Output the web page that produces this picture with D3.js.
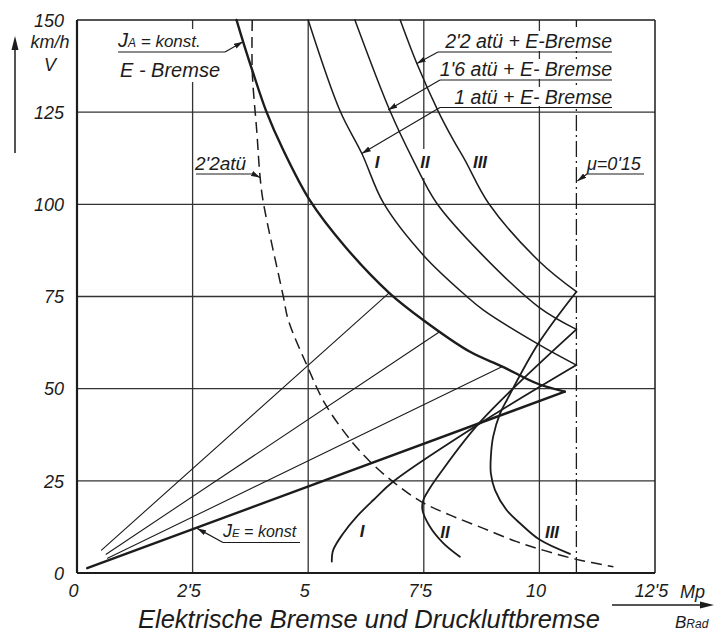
<!DOCTYPE html>
<html><head><meta charset="utf-8">
<script src="https://cdn.jsdelivr.net/npm/d3@7"></script>
<style>
html,body{margin:0;padding:0;background:#fff;}
svg{display:block;}
text{font-family:"Liberation Sans",Arial,sans-serif;font-style:italic;fill:#1c1c1c;}
</style></head><body>
<svg id="c" width="722" height="637"></svg>
<script>
// ---------- data (B in Mp, V in km/h) ----------
const xTicks=[0,2.5,5,7.5,10,12.5];
const xTickLabels=["0","2'5","5","7'5","10","12'5"];
const yTicks=[0,25,50,75,100,125,150];
const yTickLabels=["0","25","50","75","100","125","150"];
const muLimit=10.8;
// E-Bremse, J_A = konst.
const eBrake=[[3.45,150],[3.62,143],[3.8,136],[4.1,125],[4.45,115],[5.04,101],[5.8,88.5],[6.75,76],[7.5,68.5],[8.5,60.0],[9.2,56.0],[9.95,51.4],[10.55,49.2]];
// J_E = konst.
const jeLine=[[10.55,49.2],[0.22,1.3]];
// thin lines from origin to E-curve
const radial1=[[0.53,6.2],[6.75,76]];
const radial2=[[0.63,5.1],[7.85,65.5]];
const radial3=[[0.66,4.0],[9.2,56.0]];
// air + E-Bremse (upper branches)
const curveI=[[5.0,150],[5.69,125.3],[6.16,113.8],[6.63,100.3],[7.49,86.2],[8.43,75],[8.79,71.3],[10.01,61.8],[10.8,56.4]];
const curveII=[[6.01,150],[6.77,125.3],[7.27,112],[7.78,100.3],[8.75,86.5],[10.0,72],[10.8,66.1]];
const curveIII=[[6.99,150],[7.35,138.2],[7.81,125.3],[8.14,117.4],[8.39,112],[8.9,100.3],[10.0,84.5],[10.8,76.3]];
// lower branches
const lowerI=[[5.51,3.1],[5.54,6.2],[5.76,10.8],[6.05,15.3],[6.41,19.8],[6.84,24.8],[8.72,40.6],[10.8,56.4]];
const lowerII=[[8.28,4.4],[7.92,8.1],[7.63,12.6],[7.47,17.1],[7.49,19.8],[7.63,23],[7.85,27],[8.72,41],[10.8,66.1]];
const lowerIII=[[10.66,5.2],[10.01,9],[9.58,13.5],[9.29,17.1],[9.04,22.5],[8.95,27],[8.95,31.5],[9.0,37],[9.15,43.3],[9.3,47],[9.98,62.3],[10.8,76.3]];
// 2'2 atü air brake alone (dashed)
const air22=[[3.79,150],[3.79,136],[3.89,119.5],[3.96,107.3],[4.03,100.5],[4.46,75.1],[4.57,68.6],[4.97,56.4],[5.36,46],[5.9,36.3],[6.37,29.8],[6.88,24.3],[7.45,19.3],[8.07,15.7],[8.79,12.1],[9.51,8.5],[10.08,6.2],[10.8,3.7],[11.6,1.7]];

// ---------- layout ----------
const svg=d3.select("#c");
const x=d3.scaleLinear().domain([0,12.5]).range([77,655]);
const y=d3.scaleLinear().domain([0,150]).range([573,20]);
const ink="#1c1c1c";

svg.append("rect").attr("width",722).attr("height",637).attr("fill","#fff");
const defs=svg.append("defs");
defs.append("marker").attr("id","ah").attr("viewBox","0 0 10 6").attr("refX",10).attr("refY",3)
  .attr("markerWidth",9).attr("markerHeight",5.5).attr("markerUnits","userSpaceOnUse").attr("orient","auto")
  .append("path").attr("d","M0,0L10,3L0,6Z").attr("fill",ink);

const g=svg.append("g");
// grid
g.selectAll(".hg").data(yTicks.filter(v=>v>0&&v<150)).join("line")
  .attr("x1",x(0)).attr("x2",x(12.5)).attr("y1",d=>y(d)).attr("y2",d=>y(d))
  .attr("stroke","#333").attr("stroke-width",1.3);
g.selectAll(".vg").data(xTicks.filter(v=>v>0&&v<12.5)).join("line")
  .attr("y1",y(0)).attr("y2",y(150)).attr("x1",d=>x(d)).attr("x2",d=>x(d))
  .attr("stroke","#333").attr("stroke-width",1.3);
// frame
g.append("line").attr("x1",x(0)).attr("x2",x(12.5)).attr("y1",y(150)).attr("y2",y(150)).attr("stroke",ink).attr("stroke-width",1.5);
g.append("line").attr("x1",x(12.5)).attr("x2",x(12.5)).attr("y1",y(0)).attr("y2",y(150)).attr("stroke",ink).attr("stroke-width",1.5);
// mu line
g.append("line").attr("x1",x(muLimit)).attr("x2",x(muLimit)).attr("y1",y(0)).attr("y2",y(150))
  .attr("stroke",ink).attr("stroke-width",1.3).attr("stroke-dasharray","16,4,2,4");

// knockouts for labels
const ko=[[115,29,113,53],[436,31,180,20],[436,59,180,20],[448,87,168,19],[418,149,17,29]];
g.selectAll(".ko").data(ko).join("rect").attr("x",d=>d[0]).attr("y",d=>d[1]).attr("width",d=>d[2]).attr("height",d=>d[3]).attr("fill","#fff");

// axes
g.append("line").attr("x1",x(0)).attr("x2",x(0)).attr("y1",y(0)).attr("y2",y(150)).attr("stroke",ink).attr("stroke-width",2.2);
g.append("line").attr("x1",x(0)).attr("x2",x(12.5)).attr("y1",y(0)).attr("y2",y(0)).attr("stroke",ink).attr("stroke-width",2.2);

// curves
const smooth=d3.line().x(d=>x(d[0])).y(d=>y(d[1])).curve(d3.curveCatmullRom.alpha(0.5));
const straight=d3.line().x(d=>x(d[0])).y(d=>y(d[1]));
function path(data,gen,w,dash){
  const p=g.append("path").attr("d",gen(data)).attr("fill","none").attr("stroke",ink)
    .attr("stroke-width",w).attr("stroke-linejoin","round").attr("stroke-linecap","round");
  if(dash) p.attr("stroke-dasharray",dash).attr("stroke-linecap","butt");
  return p;
}
path(air22,smooth,1.5,"11,6");
[radial1,radial2,radial3].forEach(r=>path(r,straight,1.1));
[curveI,curveII,curveIII].forEach(c=>path(c,smooth,1.5));
[lowerI,lowerII,lowerIII].forEach(c=>path(c,smooth,1.8));
path(eBrake,smooth,2.4);
path(jeLine,straight,2.4);

// ---------- text ----------
const yAx=svg.append("g").attr("transform",`translate(${x(0)-13},0)`)
  .call(d3.axisLeft(y).tickValues(yTicks).tickFormat((d,i)=>yTickLabels[i]).tickSize(0).tickPadding(0));
yAx.select(".domain").remove();
yAx.selectAll("text").attr("font-size",18).attr("font-family",null).attr("fill",ink).attr("dy","0.35em");
const xAx=svg.append("g").attr("transform",`translate(-4,${y(0)+11})`)
  .call(d3.axisBottom(x).tickValues(xTicks).tickFormat((d,i)=>xTickLabels[i]).tickSize(0).tickPadding(0));
xAx.select(".domain").remove();
xAx.selectAll("text").attr("font-size",18).attr("font-family",null).attr("fill",ink).attr("dy","0.71em");

function txt(s,px,py,fs,anchor,weight){
  return svg.append("text").attr("x",px).attr("y",py).attr("font-size",fs)
    .attr("text-anchor",anchor||"start").attr("font-weight",weight||"normal").text(s);
}
txt("Mp",680,598,18);
txt("km/h",50,48,18,"middle");
txt("V",50,71,18,"middle");
txt("Elektrische Bremse und Druckluftbremse",138,628,25.5);
const br=txt("B",675,628,17); br.append("tspan").attr("font-size",12).text("Rad");

// arrows
svg.append("line").attr("x1",15).attr("x2",15).attr("y1",153).attr("y2",46).attr("stroke",ink).attr("stroke-width",1.5);
svg.append("path").attr("d","M15,36L11.5,50L18.5,50Z").attr("fill",ink);
svg.append("line").attr("x1",612).attr("x2",704).attr("y1",605).attr("y2",605).attr("stroke",ink).attr("stroke-width",1.5);
svg.append("path").attr("d","M714,605L700,601.5L700,608.5Z").attr("fill",ink);

// annotations
function leader(ux1,ux2,uy,tx,ty){
  svg.append("line").attr("x1",ux1).attr("x2",ux2).attr("y1",uy).attr("y2",uy).attr("stroke",ink).attr("stroke-width",1.2);
  svg.append("line").attr("x1",ux1).attr("y1",uy).attr("x2",tx).attr("y2",ty).attr("stroke",ink).attr("stroke-width",1.2).attr("marker-end","url(#ah)");
}
// J_A = konst.
const ja=txt("J",118,47,20); ja.append("tspan").attr("font-size",12).text("A");
ja.append("tspan").attr("font-size",17).text(" = konst.");
svg.append("line").attr("x1",118).attr("x2",225).attr("y1",52).attr("y2",52).attr("stroke",ink).attr("stroke-width",1.2);
svg.append("line").attr("x1",225).attr("y1",52).attr("x2",x(3.59)).attr("y2",y(144.1)).attr("stroke",ink).attr("stroke-width",1.2).attr("marker-end","url(#ah)");
txt("E - Bremse",120,77,20);

txt("2'2 atü + E-Bremse",612,48,19.5,"end");
leader(438,612,52,x(7.35),y(138.2));
txt("1'6 atü + E- Bremse",612,76,19.5,"end");
leader(440,612,80,x(6.73),y(125.6));
txt("1 atü + E- Bremse",612,104,19.5,"end");
leader(440,612,107.5,x(6.16),y(113.8));

txt("μ=0'15",587,170,18);
svg.append("line").attr("x1",587).attr("x2",644).attr("y1",174).attr("y2",174).attr("stroke",ink).attr("stroke-width",1.2);
svg.append("line").attr("x1",587).attr("y1",174).attr("x2",x(muLimit)+1).attr("y2",181).attr("stroke",ink).attr("stroke-width",1.2).attr("marker-end","url(#ah)");

txt("2'2atü",195,170,19);
svg.append("line").attr("x1",196).attr("x2",253).attr("y1",174).attr("y2",174).attr("stroke",ink).attr("stroke-width",1.2);
svg.append("line").attr("x1",253).attr("y1",174).attr("x2",x(3.96)).attr("y2",y(107.3)).attr("stroke",ink).attr("stroke-width",1.2).attr("marker-end","url(#ah)");

const je=txt("J",223,537,18); je.append("tspan").attr("font-size",11.5).text("E");
je.append("tspan").attr("font-size",16).text(" = konst");
svg.append("line").attr("x1",223).attr("x2",300).attr("y1",542.5).attr("y2",542.5).attr("stroke",ink).attr("stroke-width",1.2);
svg.append("line").attr("x1",223).attr("y1",542.5).attr("x2",x(2.6)).attr("y2",y(12.1)).attr("stroke",ink).attr("stroke-width",1.2).attr("marker-end","url(#ah)");

// roman numerals
[["I",377,168],["II",425,168],["III",480,168],["I",362,537],["II",445,538],["III",552,538]]
  .forEach(r=>txt(r[0],r[1],r[2],17,"middle","bold"));
</script></body></html>
